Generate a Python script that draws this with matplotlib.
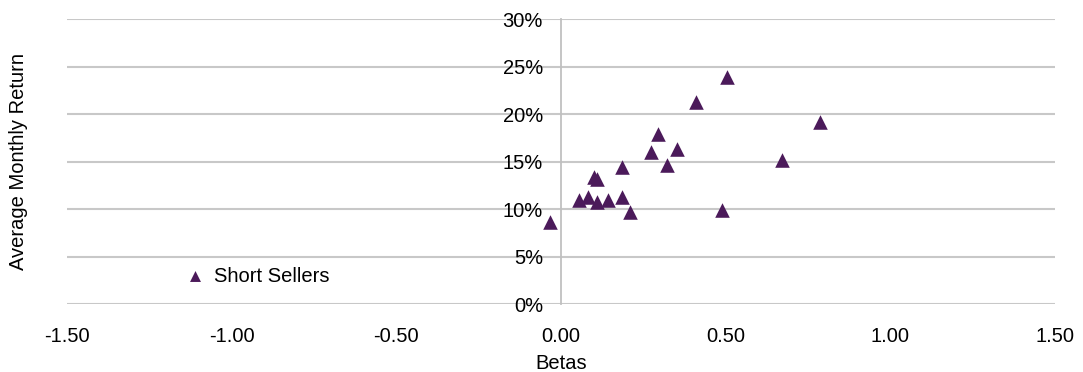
import matplotlib.pyplot as plt
from matplotlib.ticker import FuncFormatter

plt.rcParams['font.family'] = ['Liberation Sans', 'DejaVu Sans']

# beta vs average monthly return, one point per short-selling fund
betas = [-0.033, 0.055, 0.083, 0.100, 0.108, 0.108, 0.142, 0.186, 0.186, 0.210,
         0.272, 0.294, 0.322, 0.351, 0.409, 0.488, 0.503, 0.671, 0.785]
returns = [8.66, 10.98, 11.33, 13.37, 13.19, 10.77, 10.98, 11.33, 14.48, 9.75,
           16.06, 17.93, 14.66, 16.35, 21.26, 9.93, 23.96, 15.19, 19.2]
series_name = 'Short Sellers'

x_ticks = [-1.5, -1.0, -0.5, 0.0, 0.5, 1.0, 1.5]
y_ticks = [0, 5, 10, 15, 20, 25, 30]

FS = 14.5

fig = plt.figure(figsize=(10.83, 3.72), dpi=100)
ax = fig.add_axes([67 / 1083, 67.7 / 372, 988 / 1083, 285.1 / 372])

ax.scatter(betas, returns, marker='^', s=110, color='#4b1a5a', linewidths=0,
           label=series_name, zorder=3)

ax.set_xlim(-1.5, 1.5)
ax.set_ylim(0, 30)
ax.set_xticks(x_ticks)
ax.set_yticks(y_ticks)
ax.xaxis.set_major_formatter(FuncFormatter(lambda v, p: f'{v:.2f}'))
ax.yaxis.set_major_formatter(FuncFormatter(lambda v, p: f'{v:.0f}%'))

# horizontal gridlines only, value axis crossing at beta = 0
ax.grid(axis='y', color='#c8c8c8', linewidth=1.5, zorder=0)
ax.set_axisbelow(True)
for side in ['top', 'right', 'bottom']:
    ax.spines[side].set_visible(False)
ax.spines['left'].set_position(('data', 0))
ax.spines['left'].set_color('#c0c0c0')
ax.spines['left'].set_linewidth(1.3)

ax.tick_params(axis='both', length=0, labelsize=FS, colors='black')
ax.tick_params(axis='y', pad=13)
ax.tick_params(axis='x', pad=16)

ax.set_xlabel('Betas', fontsize=FS, labelpad=6)
fig.text(19 / 1083, 1 - 162 / 372, 'Average Monthly Return', rotation=90,
         ha='center', va='center', fontsize=FS)

ax.legend(loc='center left', bbox_to_anchor=(0.119, 0.099), frameon=False,
          fontsize=FS, markerscale=0.75, handlelength=1.0, handletextpad=0.45,
          borderaxespad=0, borderpad=0)

fig.savefig('out.png', dpi=100)
